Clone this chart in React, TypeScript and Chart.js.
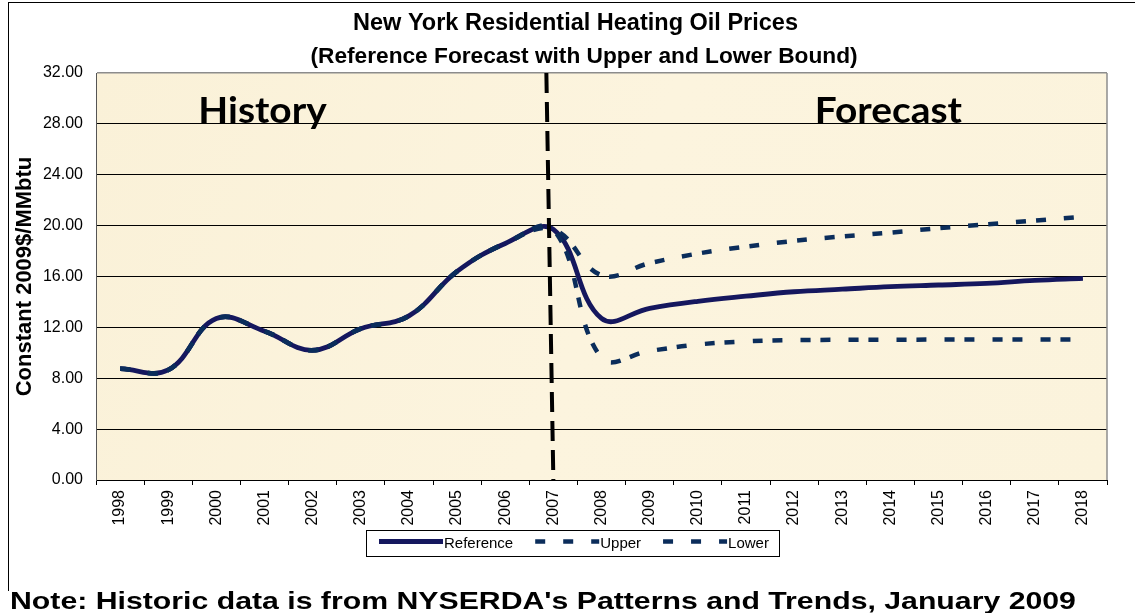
import React, { useEffect, useRef } from 'react';
import { Chart, registerables } from 'chart.js';

Chart.register(...registerables);

// ---------- data ----------
const years = ['1998', '1999', '2000', '2001', '2002', '2003', '2004', '2005', '2006', '2007', '2008',
  '2009', '2010', '2011', '2012', '2013', '2014', '2015', '2016', '2017', '2018'];

// history 1998-2007 (shared by all three series)
const historyValues = [8.75, 8.65, 12.7, 11.7, 10.2, 11.9, 12.9, 16.4, 18.6, 19.7];
// forecast 2008-2018
const referenceForecast = [12.7, 13.5, 14.05, 14.45, 14.8, 15.0, 15.2, 15.33, 15.46, 15.7, 15.85];
const upperForecast = [16.1, 17.05, 17.8, 18.35, 18.8, 19.15, 19.45, 19.8, 20.1, 20.4, 20.7];
const lowerForecast = [9.6, 10.15, 10.65, 10.9, 11.0, 11.02, 11.03, 11.04, 11.05, 11.05, 11.05];

const yMin = 0;
const yMax = 32;
const yStep = 4;

const dividerYear = '2007';
const phaseLabels = [
  { text: 'History', year: '2001', value: 28 },
  { text: 'Forecast', year: '2014', value: 28 },
];

const titleText = 'New York Residential Heating Oil Prices';
const subtitleText = '(Reference Forecast with Upper and Lower Bound)';
const yAxisTitle = 'Constant 2009$/MMbtu';
const noteText = "Note: Historic data is from NYSERDA's Patterns and Trends, January 2009";

// ---------- styles ----------
const FONT = "'Liberation Sans', Arial, sans-serif";
const REF_COLOR = '#15175e';
const BOUND_COLOR = '#0b2d5b';

const headerPlugin = {
  id: 'header',
  afterDraw(chart: any) {
    const { ctx } = chart;
    ctx.save();
    ctx.fillStyle = '#000';
    ctx.textAlign = 'center';
    ctx.textBaseline = 'middle';
    ctx.font = `bold 23.5px ${FONT}`;
    ctx.fillText(titleText, 575.5, 23.5);
    ctx.font = `bold 22.7px ${FONT}`;
    ctx.fillText(subtitleText, 584, 56.5);
    ctx.restore();
  },
};

const plotBgPlugin = {
  id: 'plotBg',
  beforeDraw(chart: any) {
    const { ctx, chartArea } = chart;
    const { left, top, right, bottom } = chartArea;
    ctx.save();
    const g = ctx.createLinearGradient(left, top, right, bottom);
    g.addColorStop(0, '#faf1d8');
    g.addColorStop(0.5, '#fcf4de');
    g.addColorStop(1, '#fbf3dc');
    ctx.fillStyle = g;
    ctx.fillRect(left, top, right - left, bottom - top);
    ctx.restore();
  },
  beforeDatasetsDraw(chart: any) {
    const { ctx, chartArea, scales } = chart;
    const { top, right, bottom } = chartArea;
    ctx.save();
    ctx.strokeStyle = '#8c8c8c';
    ctx.lineWidth = 1.5;
    ctx.beginPath();
    ctx.moveTo(right, top);
    ctx.lineTo(right, bottom);
    ctx.stroke();
    ctx.fillStyle = '#000';
    ctx.font = 'bold 36px Lato, "Open Sans", sans-serif';
    ctx.textAlign = 'center';
    ctx.textBaseline = 'alphabetic';
    phaseLabels.forEach((p) => {
      const x = scales.x.getPixelForValue(years.indexOf(p.year)) - 2;
      const y = scales.y.getPixelForValue(p.value) - 1;
      ctx.save();
      ctx.translate(x, y);
      ctx.scale(1.08, 1);
      ctx.fillText(p.text, 0, 0);
      ctx.restore();
    });
    ctx.restore();
  },
};

const dividerPlugin = {
  id: 'divider',
  afterDatasetsDraw(chart: any) {
    const { ctx, chartArea, scales } = chart;
    const x = scales.x.getPixelForValue(years.indexOf(dividerYear));
    ctx.save();
    ctx.strokeStyle = '#000';
    ctx.lineWidth = 4;
    ctx.setLineDash([20, 9]);
    ctx.beginPath();
    ctx.moveTo(x - 7, chartArea.top);
    ctx.lineTo(x, chartArea.bottom);
    ctx.stroke();
    ctx.restore();
  },
};

const boxLegendPlugin = {
  id: 'boxLegend',
  afterDraw(chart: any) {
    const { ctx } = chart;
    const box = { x: 366, y: 530, w: 413, h: 26 };
    ctx.save();
    ctx.fillStyle = '#fff';
    ctx.fillRect(box.x, box.y, box.w, box.h);
    ctx.strokeStyle = '#000';
    ctx.lineWidth = 1;
    ctx.strokeRect(box.x + 0.5, box.y + 0.5, box.w, box.h);
    ctx.font = `15px ${FONT}`;
    ctx.textBaseline = 'middle';
    ctx.textAlign = 'left';
    const cy = box.y + box.h / 2;
    let x = box.x + 13;
    chart.data.datasets.forEach((ds: any) => {
      ctx.beginPath();
      ctx.setLineDash(ds.legendDash || []);
      ctx.lineWidth = ds.borderWidth;
      ctx.strokeStyle = ds.borderColor;
      ctx.moveTo(x, cy - 1.5);
      ctx.lineTo(x + 64, cy - 1.5);
      ctx.stroke();
      ctx.setLineDash([]);
      ctx.fillStyle = '#000';
      ctx.fillText(ds.label, x + 65, cy + 1);
      x += 64 + ctx.measureText(ds.label).width + 23;
    });
    ctx.restore();
  },
};

export default function App() {
  const canvasRef = useRef<HTMLCanvasElement | null>(null);

  useEffect(() => {
    if (!canvasRef.current) return;
    const reference = [...historyValues, ...referenceForecast];
    const upper = [...historyValues, ...upperForecast];
    const lower = [...historyValues, ...lowerForecast];

    const chart = new Chart(canvasRef.current, {
      type: 'line',
      data: {
        labels: years,
        datasets: [
          {
            label: 'Reference',
            data: reference,
            borderColor: REF_COLOR,
            borderWidth: 4.8,
            tension: 0.4,
            pointRadius: 0,
            fill: false,
            borderJoinStyle: 'round',
            order: 3,
          } as any,
          {
            label: 'Upper',
            data: upper,
            borderColor: BOUND_COLOR,
            borderWidth: 4.5,
            borderDash: [10, 18, 10, 10],
            legendDash: [10, 18],
            tension: 0.4,
            pointRadius: 0,
            fill: false,
            order: 1,
          } as any,
          {
            label: 'Lower',
            data: lower,
            borderColor: BOUND_COLOR,
            borderWidth: 4.5,
            borderDash: [10, 18, 10, 10],
            legendDash: [10, 18],
            tension: 0.4,
            pointRadius: 0,
            fill: false,
            order: 2,
          } as any,
        ],
      },
      options: {
        animation: false,
        responsive: false,
        maintainAspectRatio: false,
        events: [],
        layout: { padding: { left: 8, right: 28, top: 73, bottom: 80 } },
        plugins: {
          legend: { display: false },
          tooltip: { enabled: false },
          title: { display: false },
          subtitle: { display: false },
        },
        scales: {
          x: {
            type: 'category',
            offset: true,
            grid: {
              offset: true,
              drawOnChartArea: false,
              drawTicks: true,
              tickLength: 5,
              color: '#000',
              lineWidth: 1,
            },
            border: { color: '#000', width: 1 },
            ticks: {
              autoSkip: false,
              minRotation: 90,
              maxRotation: 90,
              padding: 5,
              color: '#000',
              font: { family: FONT, size: 16 },
            },
            afterFit: (s: any) => {
              s.height = 53;
            },
          },
          y: {
            min: yMin,
            max: yMax,
            ticks: {
              stepSize: yStep,
              padding: 13,
              color: '#000',
              font: { family: FONT, size: 16 },
              callback: (v: any) => Number(v).toFixed(2),
            },
            grid: {
              drawTicks: false,
              color: (c: any) => (c.tick && c.tick.value === yMax ? '#8c8c8c' : '#000'),
              lineWidth: (c: any) => (c.tick && c.tick.value === yMax ? 1.5 : 1),
            },
            border: { color: '#555', width: 1 },
            title: {
              display: true,
              text: yAxisTitle,
              color: '#000',
              font: { family: FONT, size: 22, weight: 'bold', lineHeight: 1.2 },
              padding: { top: 3.8, bottom: 0 },
            },
            afterFit: (s: any) => {
              s.width = 88;
            },
          },
        },
      } as any,
      plugins: [plotBgPlugin, dividerPlugin, boxLegendPlugin, headerPlugin],
    });
    return () => chart.destroy();
  }, []);

  return (
    <div
      style={{
        position: 'fixed',
        left: 0,
        top: 0,
        width: 1135,
        height: 613,
        overflow: 'hidden',
        background: '#fff',
      }}
    >
      <div
        style={{
          position: 'absolute',
          left: 8,
          top: 2,
          width: 1200,
          height: 588,
          borderTop: '1px solid #000',
          borderLeft: '1px solid #000',
        }}
      />
      <canvas
        ref={canvasRef}
        width={1135}
        height={613}
        style={{ position: 'absolute', left: 0, top: 0, width: 1135, height: 613 }}
      />
      <div
        style={{
          position: 'absolute',
          left: 10,
          top: 589,
          fontFamily: FONT,
          fontWeight: 'bold',
          fontSize: 24,
          lineHeight: '24px',
          whiteSpace: 'nowrap',
          color: '#000',
          transform: 'scaleX(1.26)',
          transformOrigin: 'left top',
        }}
      >
        {noteText}
      </div>
    </div>
  );
}
